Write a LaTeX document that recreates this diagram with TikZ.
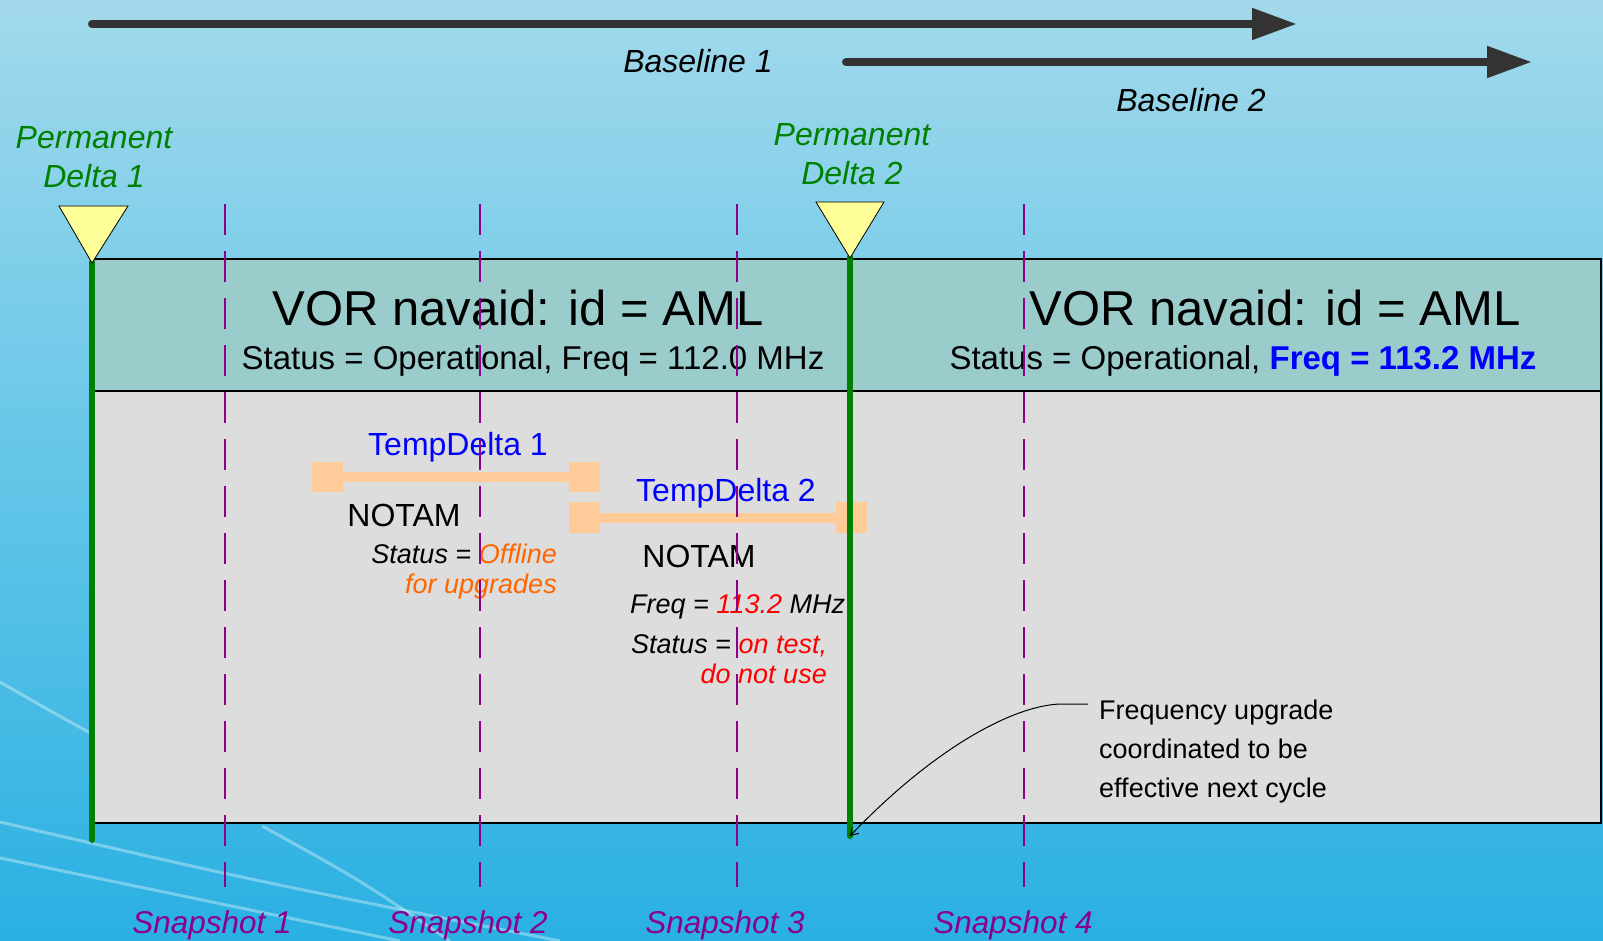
\documentclass[tikz,border=0pt]{standalone}
\usepackage{fontspec}
\setmainfont{Liberation Sans}
\usetikzlibrary{arrows.meta}
\definecolor{bgtop}{RGB}{162,217,235}
\definecolor{bgmid}{RGB}{100,198,232}
\definecolor{bgbot}{RGB}{42,176,226}
\definecolor{teal}{RGB}{154,204,204}
\definecolor{greybox}{RGB}{221,221,221}
\definecolor{pgreen}{RGB}{0,128,0}
\definecolor{tri}{RGB}{255,255,153}
\definecolor{snap}{RGB}{140,0,140}
\definecolor{peach}{RGB}{255,204,153}
\definecolor{darkarrow}{RGB}{51,51,51}
\definecolor{offl}{RGB}{255,102,0}
\newcommand\fsz[2]{\fontsize{#1}{#2}\selectfont}
\begin{document}
\begin{tikzpicture}[x=1pt,y=-1pt,
  txt/.style={inner sep=0pt,anchor=base},
  baselinearrow/.style={darkarrow,line width=8pt,line cap=round,-{Triangle[length=45pt,width=30pt]}},
  permline/.style={pgreen,line width=6pt,line cap=round},
  triangle/.style={draw=black,line width=0.8pt,fill=tri},
  snapline/.style={snap,line width=2pt,dash pattern=on 31pt off 16pt},
  tempbar/.style={peach,line width=10pt},
  tempend/.style={fill=peach},
  streak/.style={white,opacity=0.35,line width=3pt},
  greenlbl/.style={txt,pgreen,font=\fsz{32}{39}\itshape,align=center},
  snaplbl/.style={txt,snap,font=\fsz{31.5}{37}\itshape},
]
\useasboundingbox (0,0) rectangle (1603,941);
% background
\shade[top color=bgtop,bottom color=bgbot,middle color=bgmid] (0,0) rectangle (1603,941);
\draw[streak] (0,682) .. controls (80,728) .. (200,790);
\draw[streak] (0,822) .. controls (250,880) .. (560,941);
\draw[streak] (0,858) .. controls (200,900) .. (400,941);
\draw[streak] (262,826) .. controls (360,880) .. (450,941);
% baselines
\coordinate (b1s) at (92,24);
\coordinate (b1e) at (1297,24);
\coordinate (b2s) at (846,62);
\coordinate (b2e) at (1532,62);
\draw[baselinearrow] (b1s) -- (b1e);
\draw[baselinearrow] (b2s) -- (b2e);
\node[txt,font=\fsz{32}{39}\itshape] (bl1) at (698,73) {Baseline 1};
\node[txt,font=\fsz{32}{39}\itshape] (bl2) at (1191,112) {Baseline 2};
% boxes
\draw[black,line width=2pt,fill=teal] (92,259) rectangle (1601,391);
\draw[black,line width=2pt,fill=greybox] (92,391) rectangle (1601,823);
% header texts
\node[txt,font=\fsz{49}{58}] (vor1) at (518,325) {VOR navaid: id = AML};
\node[txt,font=\fsz{33}{39}] (st1) at (533,369) {Status = Operational, Freq = 112.0 MHz};
\node[txt,font=\fsz{49}{58}] (vor2) at (1275,325) {VOR navaid: id = AML};
\node[txt,font=\fsz{33}{39}] (st2) at (1243,369) {Status = Operational, \textcolor{blue}{\bfseries Freq = 113.2 MHz}};
% temp deltas
\coordinate (t1a) at (312,477);
\coordinate (t1b) at (600,477);
\coordinate (t2a) at (569,518);
\coordinate (t2b) at (867,518);
\draw[tempbar] (t1a) -- (t1b);
\draw[tempbar] (t2a) -- (t2b);
\fill[tempend] (312,462) rectangle (343,492);
\fill[tempend] (569,462) rectangle (600,492);
\fill[tempend] (569,502) rectangle (600,533);
\fill[tempend] (836,502) rectangle (867,533);
\node[txt,blue,font=\fsz{32}{39}] (td1) at (458,455) {TempDelta 1};
\node[txt,blue,font=\fsz{32}{39}] (td2) at (726,501) {TempDelta 2};
\node[txt,font=\fsz{32}{39}] (n1) at (404,526) {NOTAM};
\node[txt,font=\fsz{32}{39}] (n2) at (699,567) {NOTAM};
\node[txt,anchor=base east,font=\fsz{27}{30}\itshape] (s1a) at (557,563) {Status = \textcolor{offl}{Offline}};
\node[txt,anchor=base east,offl,font=\fsz{27}{30}\itshape] (s1b) at (557,593) {for upgrades};
\node[txt,anchor=base west,font=\fsz{27}{30}\itshape] (f2) at (630,613) {Freq = \textcolor{red}{113.2} MHz};
\node[txt,anchor=base west,font=\fsz{27}{30}\itshape] (s2a) at (631,653) {Status = \textcolor{red}{on test,}};
\node[txt,anchor=base east,red,font=\fsz{27}{30}\itshape] (s2b) at (827,683) {do not use};
% snapshot lines
\foreach \i/\x in {1/225,2/480,3/737,4/1024}{
  \coordinate (sn\i t) at (\x,204);
  \coordinate (sn\i b) at (\x,887);
  \draw[snapline] (sn\i t) -- (sn\i b);
}
\node[snaplbl] (sl1) at (212,933) {Snapshot 1};
\node[snaplbl] (sl2) at (468,933) {Snapshot 2};
\node[snaplbl] (sl3) at (725,933) {Snapshot 3};
\node[snaplbl] (sl4) at (1013,933) {Snapshot 4};
% permanent deltas
\coordinate (p1t) at (92,262);
\coordinate (p1b) at (92,840);
\coordinate (p2t) at (850,257);
\coordinate (p2b) at (850,836);
\draw[permline] (p1t) -- (p1b);
\draw[permline] (p2t) -- (p2b);
\draw[triangle] (59,206) -- (128,206) -- (92,263) -- cycle;
\draw[triangle] (816,202) -- (884,202) -- (850,258) -- cycle;
\node[greenlbl] (pd1) at (94,188) {Permanent\\Delta 1};
\node[greenlbl] (pd2) at (852,185) {Permanent\\Delta 2};
% callout
\node[txt,anchor=base west,font=\fsz{27}{39},align=left] (call) at (1099,797) {Frequency upgrade\\coordinated to be\\effective next cycle};
\coordinate (c1) at (1088,704);
\coordinate (c2) at (1060,704);
\draw[black,line width=1pt,-{Straight Barb[length=7pt,width=9pt]}] (c1) -- (c2) .. controls (1010,706) and (930,752) .. (p2b);
\end{tikzpicture}
\end{document}
